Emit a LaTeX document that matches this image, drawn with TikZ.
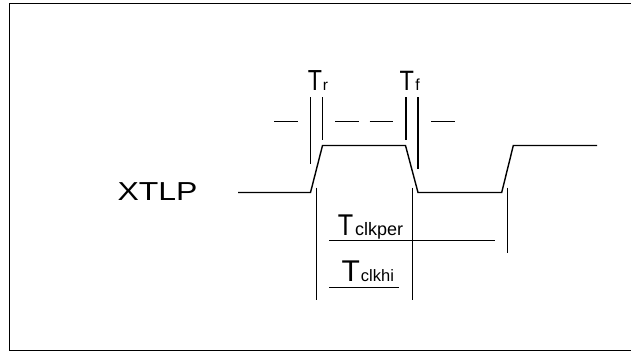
\documentclass[tikz,border=0pt]{standalone}
\usepackage{fontspec}
\setmainfont{Liberation Sans}
\usepackage{graphicx}
\begin{document}
\begin{tikzpicture}[x=1pt,y=-1pt,
  wave/.style={line width=1.4pt,line join=miter},
  mark line/.style={line width=1.4pt},
  lbl/.style={inner sep=0pt,outer sep=0pt,anchor=base west},
  frame/.style={line width=1.1pt}]
\useasboundingbox (0,0) rectangle (631,354);
% frame (right side lies outside the picture)
\coordinate (f1) at (640,3.3);
\coordinate (f2) at (9.3,3.3);
\coordinate (f3) at (9.3,350.7);
\coordinate (f4) at (640,350.7);
\draw[frame] (f1) -- (f2) -- (f3) -- (f4);
% waveform
\coordinate (w0) at (238,192.5);
\coordinate (w1) at (310.5,192.5);
\coordinate (w2) at (322.5,145.5);
\coordinate (w3) at (405.5,145.5);
\coordinate (w4) at (418,192.5);
\coordinate (w5) at (501.7,192.5);
\coordinate (w6) at (513.3,145.5);
\coordinate (w7) at (597,145.5);
\draw[wave] (w0) -- (w1) -- (w2) -- (w3) -- (w4) -- (w5) -- (w6) -- (w7);
% rise / fall markers
\coordinate (ra1) at (310.5,97); \coordinate (ra2) at (310.5,163.5);
\coordinate (rb1) at (322.5,97); \coordinate (rb2) at (322.5,139.5);
\coordinate (fa1) at (406,97);   \coordinate (fa2) at (406,140);
\coordinate (fb1) at (418,97);   \coordinate (fb2) at (418,169);
\draw[mark line] (ra1) -- (ra2);
\draw[mark line] (rb1) -- (rb2);
\draw[mark line] (fa1) -- (fa2);
\draw[mark line] (fb1) -- (fb2);
% dashed reference level
\coordinate (d1a) at (274,121.5); \coordinate (d1b) at (298,121.5);
\coordinate (d2a) at (335,121.5); \coordinate (d2b) at (358.5,121.5);
\coordinate (d3a) at (369.5,121.5); \coordinate (d3b) at (393,121.5);
\coordinate (d4a) at (431,121.5); \coordinate (d4b) at (454.5,121.5);
\draw[mark line] (d1a) -- (d1b);
\draw[mark line] (d2a) -- (d2b);
\draw[mark line] (d3a) -- (d3b);
\draw[mark line] (d4a) -- (d4b);
% period markers
\coordinate (p1a) at (316.5,187.5); \coordinate (p1b) at (316.5,300);
\coordinate (p2a) at (412.5,187.5); \coordinate (p2b) at (412.5,300);
\coordinate (p3a) at (507.5,187.5); \coordinate (p3b) at (507.5,253);
\draw[mark line] (p1a) -- (p1b);
\draw[mark line] (p2a) -- (p2b);
\draw[mark line] (p3a) -- (p3b);
\coordinate (h1a) at (329,240.5); \coordinate (h1b) at (495,240.5);
\coordinate (h2a) at (329,287.5); \coordinate (h2b) at (399,287.5);
\draw[mark line] (h1a) -- (h1b);
\draw[mark line] (h2a) -- (h2b);
% labels
\node[lbl] (xtlp) at (117.5,200) {\fontsize{26}{26}\selectfont\scalebox{1.23}[1]{XTLP}};
\node[lbl] (tr) at (307.8,90) {\fontsize{29}{29}\selectfont\scalebox{0.8}[1]{T}\kern0.8pt{\fontsize{15.5}{16}\selectfont r}};
\node[lbl] (tf) at (399.5,90) {\fontsize{28}{28}\selectfont\scalebox{0.84}[1]{T}\kern1.5pt{\fontsize{16}{16}\selectfont f}};
\node[lbl] (tclkper) at (337.8,235) {\fontsize{30}{30}\selectfont\scalebox{0.84}[1]{T}\kern2pt{\fontsize{18}{18}\selectfont clkper}};
\node[lbl] (tclkhi) at (341.6,281.7) {\fontsize{30}{30}\selectfont T\kern1pt{\fontsize{16.5}{16}\selectfont clkhi}};
\end{tikzpicture}
\end{document}
